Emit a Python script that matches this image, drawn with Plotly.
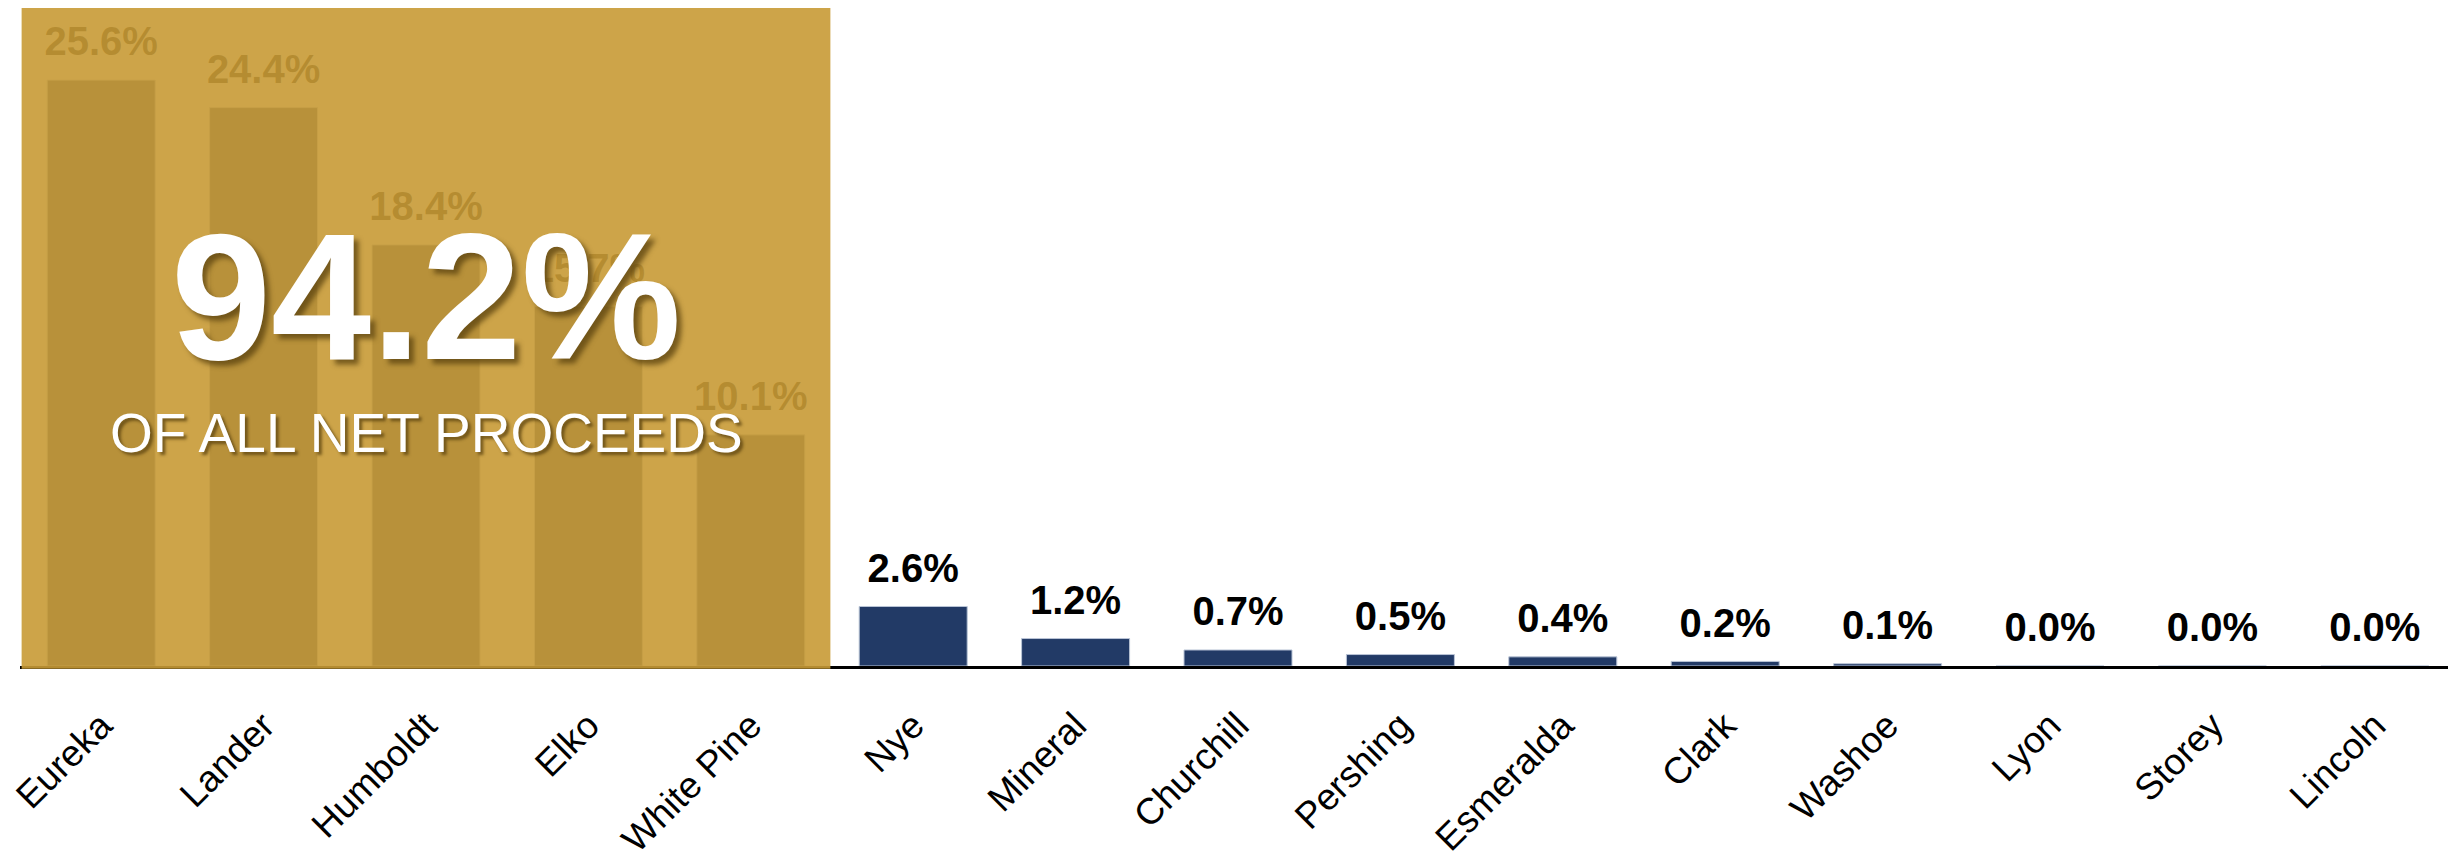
import plotly.graph_objects as go

counties = ["Eureka", "Lander", "Humboldt", "Elko", "White Pine", "Nye", "Mineral",
            "Churchill", "Pershing", "Esmeralda", "Clark", "Washoe", "Lyon", "Storey", "Lincoln"]
shares = [25.6, 24.4, 18.4, 15.7, 10.1, 2.6, 1.2, 0.7, 0.5, 0.4, 0.2, 0.1, 0.0, 0.0, 0.0]
labels = [f"{v:.1f}%" for v in shares]
headline = "94.2%"
subline = "OF ALL NET PROCEEDS"

NAVY = "#223A66"
SANS = "Liberation Sans, Arial, sans-serif"

fig = go.Figure()
fig.add_trace(go.Bar(
    x=counties, y=shares,
    marker=dict(color=NAVY, line=dict(color="#B9C4D6", width=1)),
    width=0.665, hoverinfo="skip", showlegend=False,
))
fig.add_trace(go.Scatter(
    x=counties, y=shares, mode="markers+text", text=labels,
    textposition="top center",
    textfont=dict(family=SANS, size=40, color="black", weight="bold"),
    marker=dict(size=22, color="rgba(0,0,0,0)"),
    hoverinfo="skip", showlegend=False, cliponaxis=False,
))

# translucent gold overlay covering the top five counties
fig.add_shape(type="rect", xref="x", yref="paper", x0=-0.49, x1=4.49, y0=-0.004, y1=1.0,
              fillcolor="rgba(200,154,54,0.905)", line=dict(width=0), layer="above")

fig.add_annotation(x=2, xref="x", y=0.562, yref="paper", text=headline, showarrow=False,
                   xanchor="center", yanchor="middle",
                   font=dict(family=SANS, size=180, color="white",
                             weight="bold", shadow="5px 5px 5px rgba(90,65,15,0.75)"))
fig.add_annotation(x=2, xref="x", y=0.354, yref="paper", text=subline, showarrow=False,
                   xanchor="center", yanchor="middle",
                   font=dict(family=SANS, size=55, color="white",
                             shadow="3px 3px 3px rgba(90,65,15,0.75)"))

fig.update_layout(
    width=2456, height=861,
    margin=dict(l=12, r=8, t=0, b=203, autoexpand=False),
    paper_bgcolor="white", plot_bgcolor="white",
    bargap=0.335,
    xaxis=dict(range=[-0.5, len(counties) - 0.5], showline=True, linecolor="black",
               linewidth=3, tickangle=-45,
               tickfont=dict(family=SANS, size=37, color="black"),
               ticks="", ticklabelstandoff=20, showgrid=False, zeroline=False,
               automargin=False),
    yaxis=dict(range=[0, 28.75], visible=False, showgrid=False, zeroline=False,
               automargin=False),
)

fig.write_html("out.html")
